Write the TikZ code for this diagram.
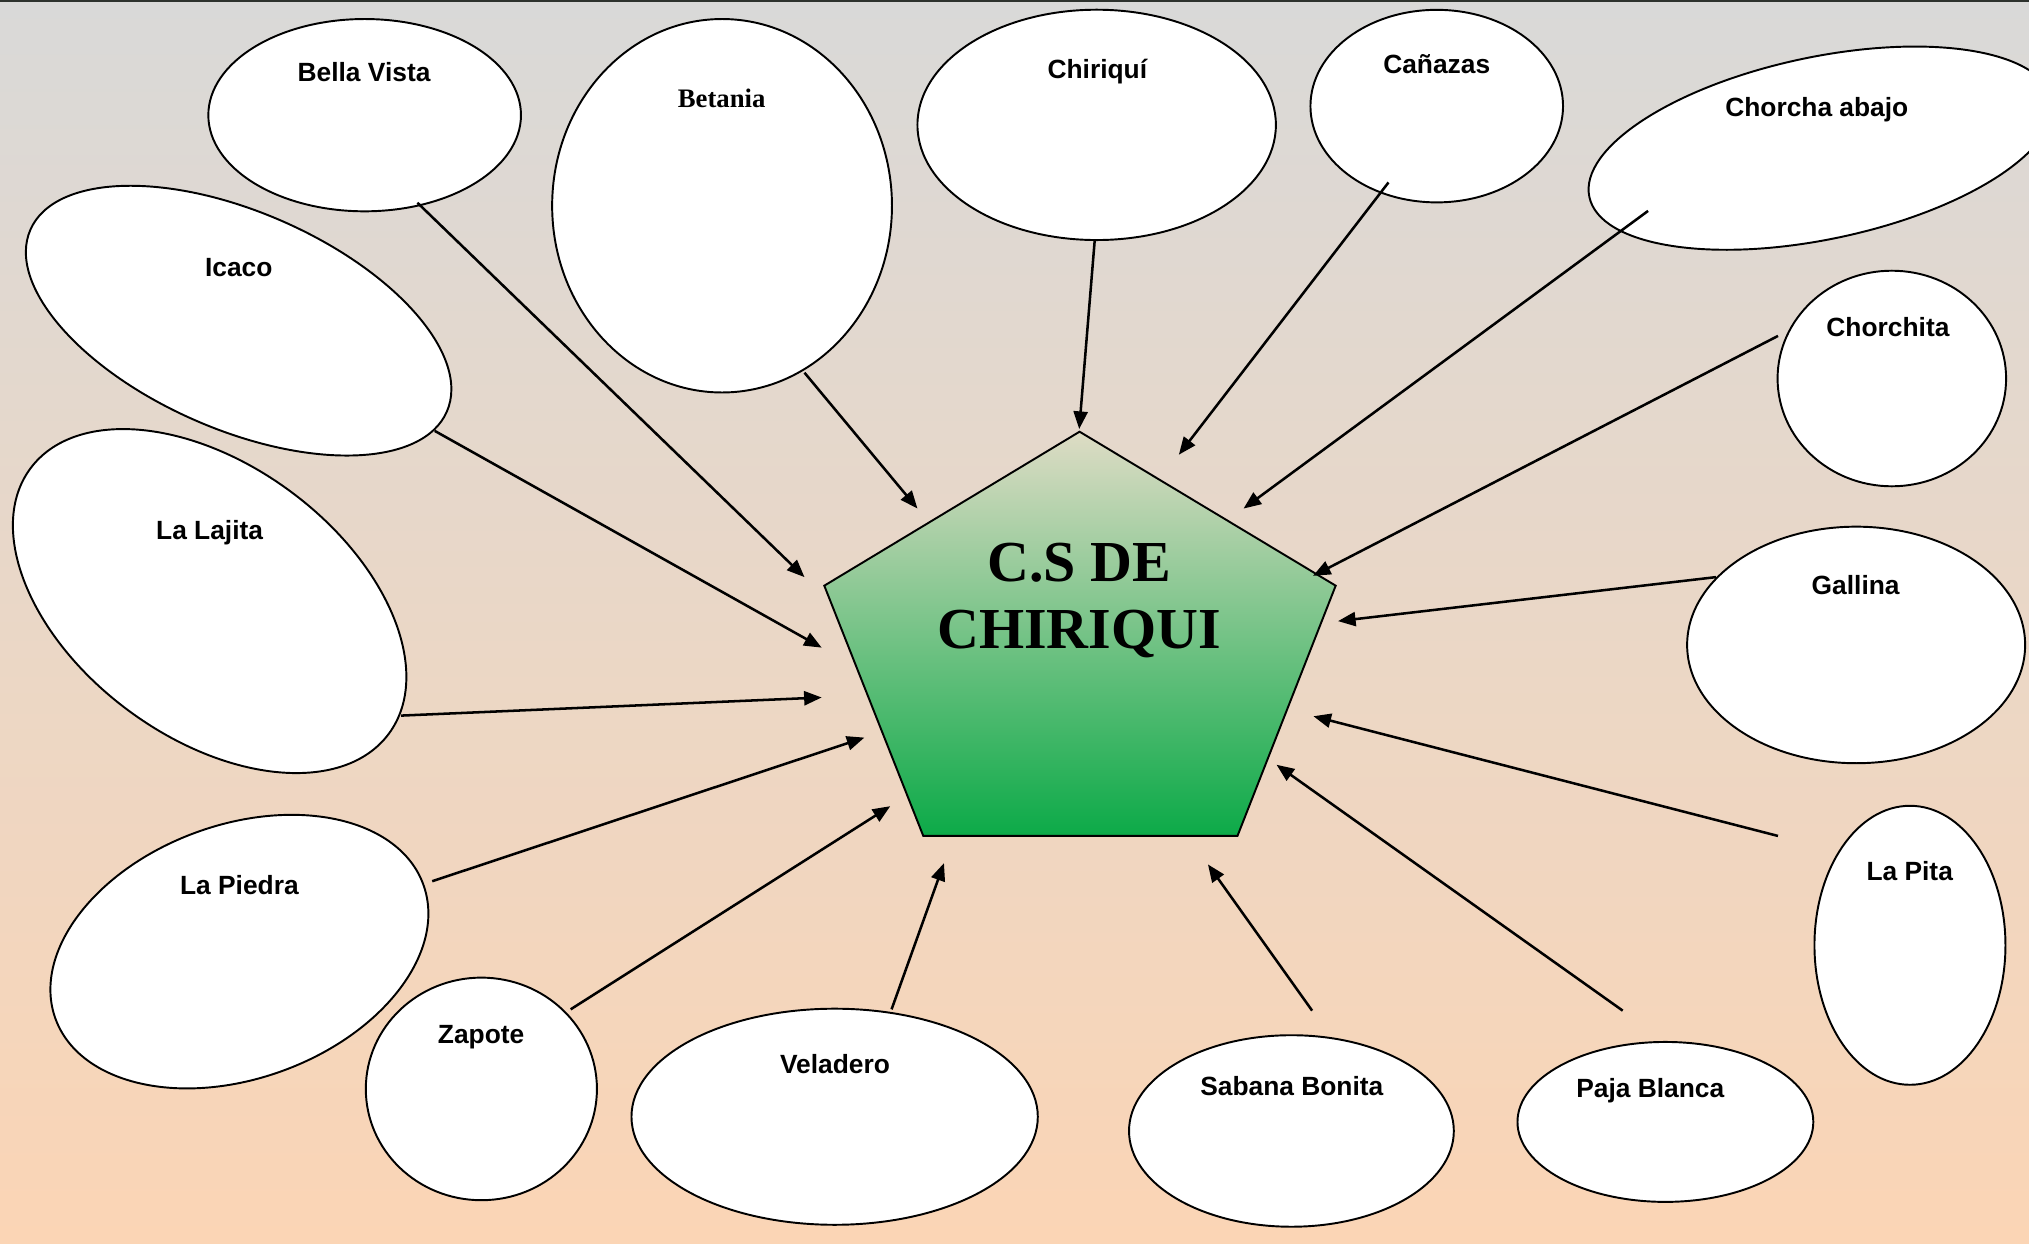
\documentclass[tikz,border=0pt]{standalone}
\usepackage{fontspec}
\setmainfont{Liberation Serif}
\newfontfamily\lsans{Liberation Sans}
\usetikzlibrary{shapes.geometric,arrows.meta,calc}
\definecolor{bgtop}{RGB}{217,217,216}
\definecolor{bgbot}{RGB}{251,213,181}
\definecolor{pgtop}{RGB}{222,220,197}
\definecolor{pgmid}{RGB}{170,201,150}
\definecolor{pgbot}{RGB}{12,170,72}
\definecolor{topline}{RGB}{45,50,45}
\def\U{0.01294cm}
\begin{document}
\begin{tikzpicture}[x=0.01294cm, y=-0.01294cm,
  place/.style={ellipse, draw=black, line width=0.55pt, fill=white, inner sep=0pt, outer sep=0pt},
  esz/.style 2 args={minimum width=2*#1*\U, minimum height=2*#2*\U},
  lbl/.style={font=\lsans\bfseries\fontsize{7.5}{9}\selectfont, anchor=base, inner sep=0pt},
  lbls/.style={font=\bfseries\fontsize{7.6}{9}\selectfont, anchor=base, inner sep=0pt},
  arr/.style={line width=0.72pt, -{Triangle[length=5pt,width=4pt]}},
  title/.style={font=\bfseries\fontsize{16.5}{19}\selectfont, align=center, inner sep=0pt}
]
\useasboundingbox (0,0) rectangle (1568,961);
\begin{scope}
\clip (0,0) rectangle (1568,961);
\shade[top color=bgtop, bottom color=bgbot] (0,0) rectangle (1568,961);
\fill[topline] (0,0) rectangle (1568,1.6);

% central pentagon
\coordinate (p1) at (834.3,333.6);
\coordinate (p2) at (1032.2,452.6);
\coordinate (p3) at (956.3,646);
\coordinate (p4) at (713.5,646);
\coordinate (p5) at (637,452.6);
\shadedraw[top color=pgtop, middle color=pgmid, bottom color=pgbot, draw=black, line width=0.55pt]
  (p1) -- (p2) -- (p3) -- (p4) -- (p5) -- cycle;
\node[title] (cs) at (834,464) {C.S DE\\CHIRIQUI};

% places
\node[place, esz={120.8}{74.3}] (bv) at (281.8,89) {};
\node[place, esz={131.3}{144.3}] (bet) at (558,159) {};
\node[place, esz={138.5}{89}] (chq) at (847.5,96.5) {};
\node[place, esz={97.6}{74.4}] (can) at (1110.3,82) {};
\node[place, esz={182.7}{70.4}, rotate=11.9] (cha) at (1407,114.5) {};
\node[place, esz={88.3}{83.3}] (chc) at (1462,292.5) {};
\node[place, esz={130.6}{91.4}] (gal) at (1434.4,498.4) {};
\node[place, esz={73.8}{107.8}] (lp) at (1476,730.5) {};
\node[place, esz={114.3}{61.8}] (pb) at (1287,867) {};
\node[place, esz={125.5}{74}] (sb) at (998,874) {};
\node[place, esz={157}{83.5}] (vel) at (645,863) {};
\node[place, esz={89.3}{86}] (zap) at (372,841.5) {};
\node[place, esz={151.3}{98}, rotate=20.1] (lpi) at (185,735.4) {};
\node[place, esz={172.3}{105.3}, rotate=-36.5] (llj) at (162,464.5) {};
\node[place, esz={175.6}{84}, rotate=-23.6] (ica) at (184.4,247.8) {};

% arrow tips near the centre
\coordinate (tBV) at (621.7,446);
\coordinate (tBet) at (709,393);
\coordinate (tChq) at (834,331.5);
\coordinate (tCan) at (911,351.4);
\coordinate (tCha) at (961,393);
\coordinate (tChc) at (1014.7,445);
\coordinate (tGal) at (1034,480);
\coordinate (tLP) at (1015,553.5);
\coordinate (tPB) at (986.5,591);
\coordinate (tSB) at (933.5,668);
\coordinate (tVel) at (729.5,667);
\coordinate (tZap) at (688,623);
\coordinate (tLPi) at (668,570);
\coordinate (tLLj) at (635,539);
\coordinate (tIca) at (635,500.5);

% connectors
\draw[arr] ([shift={(40.8,67.7)}]bv.center) -- (tBV);
\draw[arr] ([shift={(63.7,129)}]bet.center) -- (tBet);
\draw[arr] ([shift={(-1.5,89)}]chq.center) -- (tChq);
\draw[arr] ([shift={(-37.3,59)}]can.center) -- (tCan);
\draw[arr] ([shift={(-133.4,48.5)}]cha.center) -- (tCha);
\draw[arr] ([shift={(-88,-32.9)}]chc.center) -- (tChc);
\draw[arr] ([shift={(-108.4,-52.4)}]gal.center) -- (tGal);
\draw[arr] ([shift={(-102,-84.5)}]lp.center) -- (tLP);
\draw[arr] ([shift={(-33,-86)}]pb.center) -- (tPB);
\draw[arr] ([shift={(16,-93)}]sb.center) -- (tSB);
\draw[arr] ([shift={(44,-83)}]vel.center) -- (tVel);
\draw[arr] ([shift={(69,-61.5)}]zap.center) -- (tZap);
\draw[arr] ([shift={(149,-54.4)}]lpi.center) -- (tLPi);
\draw[arr] ([shift={(148,88.5)}]llj.center) -- (tLLj);
\draw[arr] ([shift={(151.6,85.2)}]ica.center) -- (tIca);

% labels
\node[lbl] (bv-t) at (281.3,63) {Bella Vista};
\node[lbls] (bet-t) at (557.7,83) {Betania};
\node[lbl] (chq-t) at (848,61) {Chiriquí};
\node[lbl] (can-t) at (1110.3,56.5) {Cañazas};
\node[lbl] (cha-t) at (1404,90) {Chorcha abajo};
\node[lbl] (chc-t) at (1459,259.7) {Chorchita};
\node[lbl] (gal-t) at (1434,459.7) {Gallina};
\node[lbl] (lp-t) at (1475.8,680.7) {La Pita};
\node[lbl] (pb-t) at (1275.3,848.5) {Paja Blanca};
\node[lbl] (sb-t) at (998.3,846.8) {Sabana Bonita};
\node[lbl] (vel-t) at (645.3,829.8) {Veladero};
\node[lbl] (zap-t) at (371.8,806.6) {Zapote};
\node[lbl] (lpi-t) at (185,691.4) {La Piedra};
\node[lbl] (llj-t) at (162,417) {La Lajita};
\node[lbl] (ica-t) at (184.5,214) {Icaco};
\end{scope}
\end{tikzpicture}
\end{document}
